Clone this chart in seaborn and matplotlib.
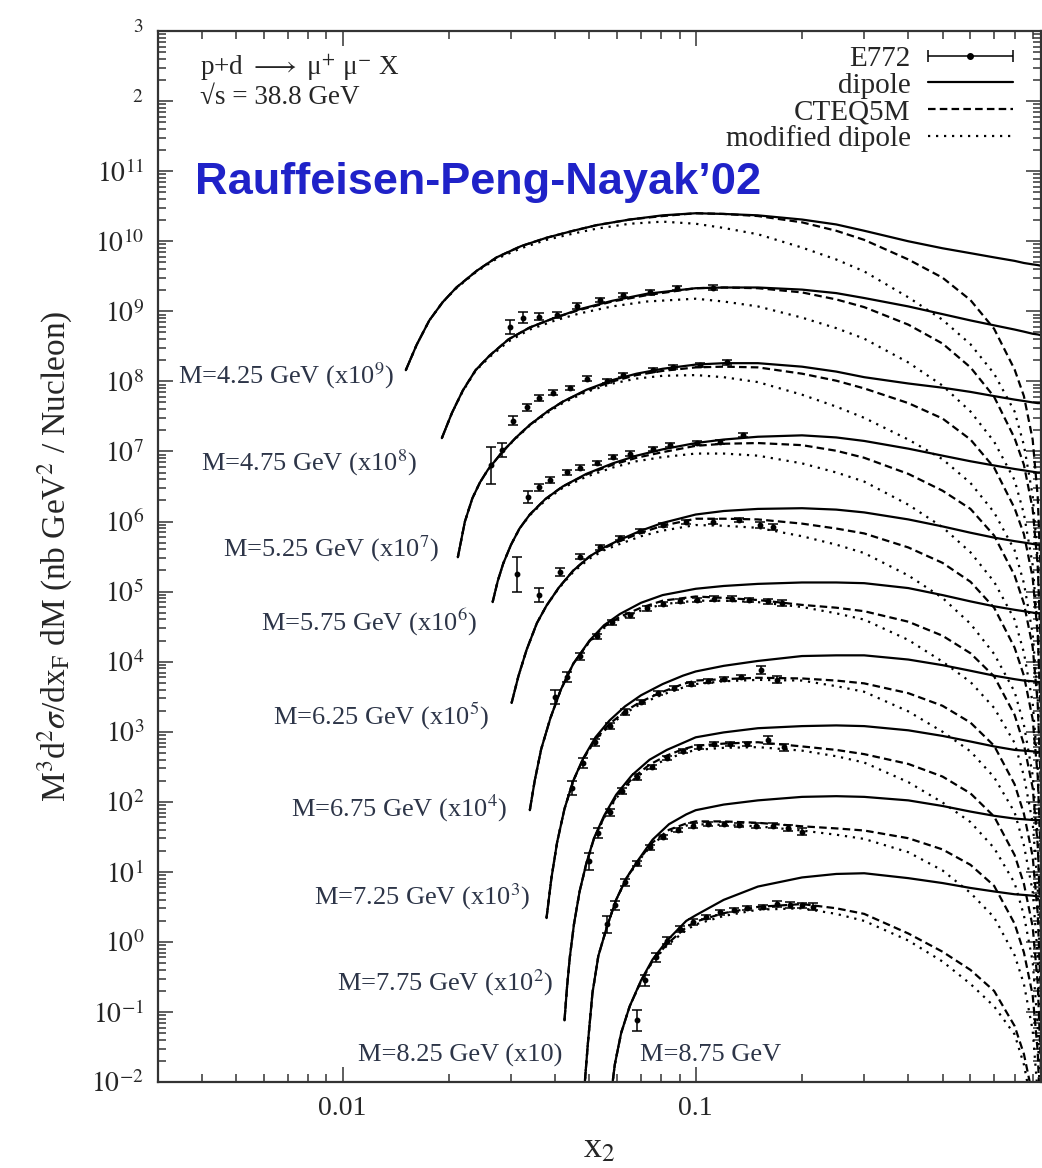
import numpy as np
import pandas as pd
import matplotlib
matplotlib.use("Agg")
import matplotlib.pyplot as plt
import seaborn as sns
from matplotlib.lines import Line2D
from matplotlib.container import ErrorbarContainer
from matplotlib.legend_handler import HandlerErrorbar
from matplotlib.ticker import FixedLocator, LogLocator, NullFormatter

# ---------------------------------------------------------------------------
# Values.  x2 values are plain numbers, the
# cross sections are stored as log10 of the plotted (already rescaled) value.
# Each curve = values at the bin's own low-x points followed by X_RIGHT.
# ---------------------------------------------------------------------------
X_RIGHT = [0.1, 0.12, 0.15, 0.2, 0.25, 0.3, 0.4, 0.5, 0.6, 0.7, 0.8, 0.85, 0.9, 0.93, 0.95]

MASS_LABELS = ["M=4.25 GeV (x10$^9$)", "M=4.75 GeV (x10$^8$)", "M=5.25 GeV (x10$^7$)",
               "M=5.75 GeV (x10$^6$)", "M=6.25 GeV (x10$^5$)", "M=6.75 GeV (x10$^4$)",
               "M=7.25 GeV (x10$^3$)", "M=7.75 GeV (x10$^2$)", "M=8.25 GeV (x10)",
               "M=8.75 GeV"]

# bin 1 : M = 4.25 GeV (x1e9)
B1_X = [0.0151, 0.0162, 0.0176, 0.0192, 0.0210, 0.0240, 0.0273, 0.032, 0.0378, 0.045, 0.0524, 0.065, 0.0806]
B1_DIPOLE = [8.16, 8.52, 8.87, 9.13, 9.34, 9.58, 9.77, 9.93, 10.05, 10.15, 10.23, 10.31, 10.37,
             10.40, 10.39, 10.37, 10.31, 10.24, 10.15, 10.00, 9.90, 9.83, 9.77, 9.72, 9.69, 9.67, 9.66, 9.65]
B1_CTEQ = [8.16, 8.52, 8.87, 9.13, 9.34, 9.58, 9.77, 9.93, 10.05, 10.15, 10.23, 10.31, 10.36,
           10.40, 10.39, 10.36, 10.27, 10.15, 10.02, 9.74, 9.48, 9.16, 8.75, 8.17, 7.79, 7.17, 6.36, 5.15]
B1_MODDIP = [8.16, 8.52, 8.87, 9.13, 9.33, 9.57, 9.75, 9.90, 10.02, 10.11, 10.18, 10.25, 10.28,
             10.25, 10.19, 10.10, 9.91, 9.74, 9.57, 9.20, 8.88, 8.53, 8.11, 7.57, 7.09, 6.37, 5.46, 4.15]

# bin 2 : M = 4.75 GeV (x1e8)
B2_X = [0.0191, 0.0204, 0.0219, 0.0238, 0.0261, 0.0295, 0.0339, 0.040, 0.0469, 0.058, 0.0726]
B2_DIPOLE = [7.19, 7.55, 7.87, 8.16, 8.37, 8.60, 8.77, 8.91, 9.03, 9.15, 9.25,
             9.33, 9.34, 9.34, 9.31, 9.26, 9.19, 9.07, 8.96, 8.87, 8.80, 8.74, 8.71, 8.68, 8.67, 8.66]
B2_CTEQ = [7.19, 7.55, 7.87, 8.16, 8.37, 8.60, 8.77, 8.91, 9.02, 9.14, 9.23,
           9.33, 9.34, 9.33, 9.27, 9.17, 9.06, 8.81, 8.54, 8.20, 7.78, 7.19, 6.81, 6.18, 5.37, 4.16]
B2_MODDIP = [7.19, 7.55, 7.86, 8.15, 8.35, 8.57, 8.74, 8.87, 8.97, 9.07, 9.14,
             9.18, 9.14, 9.07, 8.91, 8.76, 8.61, 8.27, 7.94, 7.57, 7.14, 6.59, 6.11, 5.38, 4.47, 3.16]

# bin 3 : M = 5.25 GeV (x1e7)
B3_X = [0.0212, 0.0222, 0.0233, 0.0245, 0.0258, 0.0284, 0.031, 0.0339, 0.038, 0.042, 0.049, 0.0582, 0.068, 0.0806]
B3_DIPOLE = [5.49, 6.00, 6.33, 6.56, 6.74, 7.00, 7.20, 7.38, 7.57, 7.71, 7.88, 8.02, 8.11, 8.18,
             8.24, 8.26, 8.26, 8.21, 8.14, 8.06, 7.97, 7.91, 7.85, 7.79, 7.74, 7.72, 7.70, 7.69, 7.69]
B3_CTEQ = [5.49, 6.00, 6.33, 6.56, 6.74, 7.00, 7.20, 7.38, 7.57, 7.71, 7.87, 8.00, 8.09, 8.15,
           8.20, 8.21, 8.20, 8.11, 8.01, 7.90, 7.69, 7.47, 7.17, 6.77, 6.19, 5.82, 5.20, 4.39, 3.19]
B3_MODDIP = [5.49, 6.00, 6.33, 6.56, 6.74, 7.00, 7.19, 7.37, 7.55, 7.69, 7.85, 7.97, 8.04, 8.08,
             8.09, 8.06, 7.99, 7.81, 7.64, 7.48, 7.17, 6.89, 6.55, 6.13, 5.59, 5.12, 4.40, 3.49, 2.19]

# bin 4 : M = 5.75 GeV (x1e6)
B4_X = [0.0266, 0.0275, 0.0285, 0.030, 0.0317, 0.0339, 0.0375, 0.042, 0.049, 0.0582, 0.068, 0.0806]
B4_DIPOLE = [4.85, 5.15, 5.40, 5.67, 5.90, 6.10, 6.32, 6.50, 6.68, 6.83, 6.94, 7.03,
             7.12, 7.17, 7.21, 7.23, 7.20, 7.15, 7.04, 6.94, 6.86, 6.80, 6.75, 6.73, 6.71, 6.70, 6.70]
B4_CTEQ = [4.85, 5.15, 5.40, 5.67, 5.90, 6.10, 6.32, 6.50, 6.67, 6.81, 6.91, 6.99,
           7.08, 7.11, 7.12, 7.09, 7.01, 6.91, 6.68, 6.44, 6.18, 5.80, 5.23, 4.83, 4.21, 3.40, 2.20]
B4_MODDIP = [4.85, 5.15, 5.40, 5.67, 5.90, 6.09, 6.30, 6.48, 6.64, 6.77, 6.86, 6.92,
             6.97, 6.97, 6.94, 6.83, 6.70, 6.57, 6.24, 5.92, 5.56, 5.14, 4.60, 4.13, 3.41, 2.50, 1.20]

# bin 5 : M = 6.25 GeV (x1e5)
B5_X = [0.0301, 0.0315, 0.0332, 0.0355, 0.0378, 0.041, 0.045, 0.050, 0.055, 0.061, 0.070, 0.0806]
B5_DIPOLE = [3.41, 3.80, 4.17, 4.55, 4.80, 5.06, 5.30, 5.50, 5.63, 5.74, 5.87, 5.98,
             6.10, 6.15, 6.18, 6.19, 6.17, 6.13, 6.03, 5.93, 5.84, 5.77, 5.72, 5.70, 5.68, 5.67, 5.66]
B5_CTEQ = [3.41, 3.80, 4.17, 4.55, 4.80, 5.06, 5.30, 5.50, 5.62, 5.72, 5.84, 5.94,
           6.04, 6.04, 6.03, 5.97, 5.90, 5.83, 5.63, 5.41, 5.14, 4.77, 4.20, 3.80, 3.18, 2.37, 1.16]
B5_MODDIP = [3.41, 3.80, 4.17, 4.55, 4.80, 5.05, 5.28, 5.47, 5.59, 5.68, 5.79, 5.87,
             5.95, 5.94, 5.91, 5.79, 5.67, 5.55, 5.23, 4.91, 4.54, 4.11, 3.57, 3.10, 2.38, 1.47, 0.16]

# bin 6 : M = 6.75 GeV (x1e4)
B6_X = [0.0339, 0.035, 0.0365, 0.0388, 0.0415, 0.045, 0.050, 0.055, 0.061, 0.070, 0.0806]
B6_DIPOLE = [1.88, 2.30, 2.75, 3.20, 3.60, 3.97, 4.30, 4.52, 4.68, 4.84, 4.95,
             5.04, 5.08, 5.11, 5.13, 5.13, 5.12, 5.05, 4.95, 4.86, 4.79, 4.74, 4.72, 4.70, 4.69, 4.69]
B6_CTEQ = [1.88, 2.30, 2.75, 3.20, 3.60, 3.97, 4.29, 4.50, 4.64, 4.77, 4.87,
           4.93, 4.91, 4.88, 4.81, 4.77, 4.72, 4.57, 4.37, 4.12, 3.79, 3.24, 2.82, 2.20, 1.39, 0.19]
B6_MODDIP = [1.88, 2.30, 2.75, 3.20, 3.60, 3.97, 4.28, 4.48, 4.61, 4.73, 4.82,
             4.87, 4.87, 4.85, 4.78, 4.69, 4.60, 4.31, 4.00, 3.71, 3.34, 2.84, 2.37, 1.70, 0.79, -0.81]

# bin 7 : M = 7.25 GeV (x1e3)
B7_X = [0.0378, 0.039, 0.0405, 0.0425, 0.045, 0.048, 0.052, 0.057, 0.063, 0.070, 0.0806, 0.092]
B7_DIPOLE = [0.34, 0.90, 1.42, 1.90, 2.30, 2.62, 2.92, 3.16, 3.36, 3.52, 3.68, 3.80,
             3.86, 3.94, 4.01, 4.08, 4.09, 4.09, 4.03, 3.95, 3.87, 3.80, 3.75, 3.73, 3.72, 3.71, 3.71]
B7_CTEQ = [0.34, 0.90, 1.42, 1.90, 2.30, 2.61, 2.89, 3.11, 3.29, 3.43, 3.57, 3.68,
           3.73, 3.75, 3.77, 3.76, 3.73, 3.69, 3.55, 3.37, 3.13, 2.80, 2.25, 1.83, 1.22, 0.41, -0.79]
B7_MODDIP = [0.34, 0.90, 1.42, 1.90, 2.30, 2.61, 2.88, 3.09, 3.26, 3.40, 3.53, 3.63,
             3.68, 3.72, 3.74, 3.73, 3.65, 3.57, 3.29, 3.00, 2.72, 2.35, 1.85, 1.38, 0.72, -0.19, -1.79]

# bin 8 : M = 7.75 GeV (x1e2)
B8_X = [0.0425, 0.0432, 0.044, 0.0452, 0.0469, 0.049, 0.0515, 0.055, 0.0595, 0.066, 0.074, 0.0828, 0.092]
B8_DIPOLE = [-1.12, -0.65, -0.22, 0.25, 0.72, 1.12, 1.48, 1.80, 2.10, 2.38, 2.60, 2.74, 2.84,
             2.92, 2.99, 3.05, 3.08, 3.09, 3.08, 3.02, 2.94, 2.86, 2.79, 2.74, 2.73, 2.72, 2.71, 2.71]
B8_CTEQ = [-1.12, -0.65, -0.22, 0.25, 0.72, 1.12, 1.47, 1.78, 2.07, 2.33, 2.53, 2.66, 2.75,
           2.80, 2.83, 2.85, 2.79, 2.74, 2.68, 2.54, 2.36, 2.12, 1.79, 1.24, 0.83, 0.22, -0.59, -1.79]
B8_MODDIP = [-1.12, -0.65, -0.22, 0.25, 0.72, 1.12, 1.47, 1.77, 2.05, 2.30, 2.49, 2.61, 2.69,
             2.74, 2.77, 2.78, 2.73, 2.65, 2.56, 2.28, 1.99, 1.71, 1.34, 0.84, 0.38, -0.28, -1.19, -2.79]

# bin 9 : M = 8.25 GeV (x10)
B9_X = [0.0480, 0.0495, 0.051, 0.053, 0.056, 0.0595, 0.0638, 0.069, 0.0755, 0.084, 0.094]
B9_DIPOLE = [-2.30, -1.45, -0.73, -0.20, 0.21, 0.60, 0.92, 1.18, 1.46, 1.68, 1.82,
             1.88, 1.96, 2.02, 2.07, 2.08, 2.07, 2.02, 1.94, 1.86, 1.80, 1.76, 1.75, 1.74, 1.74, 1.74]
B9_CTEQ = [-2.30, -1.45, -0.73, -0.20, 0.21, 0.60, 0.92, 1.17, 1.42, 1.60, 1.69,
           1.72, 1.72, 1.70, 1.65, 1.62, 1.59, 1.48, 1.32, 1.10, 0.80, 0.26, -0.15, -0.76, -1.56, -2.76]
B9_MODDIP = [-2.30, -1.45, -0.73, -0.20, 0.21, 0.60, 0.91, 1.16, 1.40, 1.57, 1.66,
             1.68, 1.67, 1.65, 1.59, 1.53, 1.47, 1.28, 1.02, 0.70, 0.35, -0.19, -0.60, -1.26, -2.16, -3.76]

# bin 10 : M = 8.75 GeV (x1)
B10_X = [0.0572, 0.059, 0.0615, 0.065, 0.070, 0.0755, 0.083, 0.094]
B10_DIPOLE = [-2.30, -1.75, -1.30, -0.92, -0.55, -0.25, 0.02, 0.30,
              0.38, 0.60, 0.79, 0.92, 0.97, 0.98, 0.91, 0.84, 0.77, 0.72, 0.68, 0.67, 0.66, 0.65, 0.65]
B10_CTEQ = [-2.30, -1.75, -1.30, -0.92, -0.56, -0.27, -0.03, 0.21,
            0.29, 0.41, 0.50, 0.54, 0.48, 0.40, 0.12, -0.14, -0.40, -0.70, -1.20, -1.60, -2.20, -3.00, -4.20]
B10_MODDIP = [-2.30, -1.75, -1.30, -0.92, -0.56, -0.28, -0.05, 0.17,
              0.25, 0.37, 0.46, 0.48, 0.40, 0.30, 0.02, -0.28, -0.60, -0.92, -1.32, -1.75, -2.40, -3.30, -5.00]

# E772 data points (x2, log10 of value, error in decades)
D2_X = [0.0297, 0.0324, 0.0361, 0.0404, 0.046, 0.0535, 0.0621, 0.0741, 0.0884, 0.1117]
D2_Y = [8.77, 8.91, 8.92, 8.95, 9.08, 9.16, 9.23, 9.27, 9.33, 9.34]
D2_E = [0.10, 0.08, 0.05, 0.04, 0.04, 0.03, 0.03, 0.03, 0.03, 0.03]

D3_X = [0.0264, 0.0282, 0.0303, 0.0332, 0.0361, 0.0394, 0.044, 0.0491, 0.056, 0.0621, 0.0755, 0.0861, 0.1026, 0.1225]
D3_Y = [6.80, 7.02, 7.44, 7.63, 7.76, 7.84, 7.91, 8.04, 8.01, 8.09, 8.16, 8.20, 8.23, 8.27]
D3_E = [0.27, 0.10, 0.06, 0.05, 0.04, 0.04, 0.03, 0.03, 0.03, 0.03, 0.03, 0.03, 0.03, 0.03]

D4_X = [0.0311, 0.0334, 0.0361, 0.0386, 0.0431, 0.0469, 0.0524, 0.0582, 0.065, 0.0755, 0.0844, 0.1006, 0.117, 0.136]
D4_Y = [5.25, 6.35, 6.49, 6.59, 6.70, 6.77, 6.84, 6.92, 6.97, 7.04, 7.09, 7.12, 7.13, 7.23]
D4_E = [0.25, 0.08, 0.05, 0.04, 0.04, 0.03, 0.03, 0.03, 0.03, 0.03, 0.03, 0.03, 0.03, 0.03]

D5_X = [0.0361, 0.0412, 0.047, 0.0535, 0.061, 0.0694, 0.0806, 0.094, 0.1117, 0.133, 0.152, 0.165]
D5_Y = [4.95, 5.28, 5.50, 5.63, 5.77, 5.87, 5.95, 5.99, 6.00, 6.02, 5.95, 5.92]
D5_E = [0.10, 0.06, 0.04, 0.04, 0.03, 0.03, 0.03, 0.03, 0.03, 0.03, 0.04, 0.04]

D6_X = [0.040, 0.0431, 0.0469, 0.0524, 0.058, 0.065, 0.0726, 0.081, 0.090, 0.101, 0.113, 0.127, 0.142, 0.16, 0.175]
D6_Y = [3.50, 3.78, 4.08, 4.36, 4.56, 4.66, 4.76, 4.82, 4.86, 4.88, 4.90, 4.90, 4.88, 4.86, 4.84]
D6_E = [0.10, 0.07, 0.05, 0.04, 0.04, 0.03, 0.03, 0.03, 0.03, 0.03, 0.03, 0.03, 0.03, 0.04, 0.04]

D7_X = [0.0445, 0.048, 0.052, 0.057, 0.063, 0.070, 0.078, 0.087, 0.097, 0.108, 0.12, 0.134, 0.153, 0.17]
D7_Y = [2.20, 2.55, 2.85, 3.08, 3.28, 3.42, 3.55, 3.62, 3.68, 3.72, 3.75, 3.78, 3.88, 3.74]
D7_E = [0.10, 0.07, 0.05, 0.04, 0.04, 0.03, 0.03, 0.03, 0.03, 0.03, 0.03, 0.03, 0.06, 0.05]

D8_X = [0.050, 0.053, 0.057, 0.062, 0.068, 0.075, 0.083, 0.092, 0.102, 0.113, 0.125, 0.14, 0.16, 0.178]
D8_Y = [1.15, 1.55, 1.85, 2.15, 2.35, 2.50, 2.63, 2.72, 2.78, 2.82, 2.82, 2.83, 2.88, 2.78]
D8_E = [0.12, 0.07, 0.05, 0.04, 0.04, 0.03, 0.03, 0.03, 0.03, 0.03, 0.03, 0.03, 0.06, 0.05]

D9_X = [0.056, 0.059, 0.063, 0.068, 0.074, 0.081, 0.089, 0.098, 0.108, 0.12, 0.133, 0.148, 0.165, 0.183, 0.20]
D9_Y = [0.25, 0.52, 0.85, 1.12, 1.35, 1.50, 1.60, 1.66, 1.68, 1.68, 1.67, 1.66, 1.66, 1.63, 1.57]
D9_E = [0.12, 0.07, 0.05, 0.04, 0.04, 0.03, 0.03, 0.03, 0.03, 0.03, 0.03, 0.03, 0.04, 0.04, 0.05]

D10_X = [0.068, 0.072, 0.077, 0.083, 0.09, 0.098, 0.107, 0.117, 0.128, 0.14, 0.155, 0.17, 0.185, 0.20, 0.215]
D10_Y = [-1.12, -0.55, -0.22, 0.02, 0.18, 0.28, 0.36, 0.42, 0.46, 0.48, 0.50, 0.54, 0.53, 0.52, 0.50]
D10_E = [0.15, 0.08, 0.06, 0.05, 0.04, 0.04, 0.03, 0.03, 0.03, 0.03, 0.03, 0.04, 0.04, 0.04, 0.05]

MODELS = ["dipole", "CTEQ5M", "modified dipole"]

# ---------------------------------------------------------------------------
sns.set_style("ticks")
plt.rcParams["font.family"] = ["Liberation Serif", "DejaVu Serif"]
plt.rcParams["mathtext.fontset"] = "stix"
TXT = "#262626"

CURVES = [(B1_X, B1_DIPOLE, B1_CTEQ, B1_MODDIP), (B2_X, B2_DIPOLE, B2_CTEQ, B2_MODDIP),
          (B3_X, B3_DIPOLE, B3_CTEQ, B3_MODDIP), (B4_X, B4_DIPOLE, B4_CTEQ, B4_MODDIP),
          (B5_X, B5_DIPOLE, B5_CTEQ, B5_MODDIP), (B6_X, B6_DIPOLE, B6_CTEQ, B6_MODDIP),
          (B7_X, B7_DIPOLE, B7_CTEQ, B7_MODDIP), (B8_X, B8_DIPOLE, B8_CTEQ, B8_MODDIP),
          (B9_X, B9_DIPOLE, B9_CTEQ, B9_MODDIP), (B10_X, B10_DIPOLE, B10_CTEQ, B10_MODDIP)]
DATA = [(D2_X, D2_Y, D2_E), (D3_X, D3_Y, D3_E), (D4_X, D4_Y, D4_E), (D5_X, D5_Y, D5_E),
        (D6_X, D6_Y, D6_E), (D7_X, D7_Y, D7_E), (D8_X, D8_Y, D8_E), (D9_X, D9_Y, D9_E),
        (D10_X, D10_Y, D10_E)]

rows = []
for ib, (xl, dip, cteq, mod) in enumerate(CURVES):
    xs = list(xl) + X_RIGHT
    for model, vals in zip(MODELS, (dip, cteq, mod)):
        assert len(vals) == len(xs), (ib, model, len(vals), len(xs))
        for xv, lv in zip(xs, vals):
            rows.append({"bin": ib, "model": model, "x": xv, "y": 10.0 ** lv})
df = pd.DataFrame(rows)

fig = plt.figure(figsize=(10.42, 11.68), dpi=100)
ax = fig.add_axes([0.1516, 0.0736, 0.8474, 0.8998])
ax.set_xscale("log")
ax.set_yscale("log")

DASHES = {"dipole": "", "CTEQ5M": (3.4, 1.9), "modified dipole": (1.0, 2.6)}
sns.lineplot(data=df, x="x", y="y", units="bin", estimator=None, style="model",
             style_order=MODELS, dashes=DASHES, color="black", linewidth=1.6,
             legend=False, ax=ax, sort=False)

for dx, dy, de in DATA:
    x = np.asarray(dx)
    y = 10.0 ** np.asarray(dy)
    e = np.asarray(de)
    yerr = np.vstack([y - y * 10.0 ** (-e), y * 10.0 ** e - y])
    ax.errorbar(x, y, yerr=yerr, fmt="o", ms=3.2, color="black", ecolor="black",
                elinewidth=1.1, capsize=3.5, capthick=1.1, zorder=4)

ax.set_xlim(0.003, 0.95)
ax.set_ylim(1e-2, 1e13)

# ticks
ax.xaxis.set_major_locator(FixedLocator([0.01, 0.1]))
ax.set_xticklabels(["0.01", "0.1"])
ax.xaxis.set_minor_locator(LogLocator(base=10, subs=np.arange(2, 10), numticks=50))
ax.xaxis.set_minor_formatter(NullFormatter())
ax.yaxis.set_major_locator(FixedLocator([10.0 ** k for k in range(-2, 14)]))
ylabels = [f"$10^{{{k}}}$" for k in range(-2, 12)] + ["${}^{2}$", "${}^{3}$"]
ax.set_yticklabels(ylabels)
ax.yaxis.set_minor_locator(LogLocator(base=10, subs=np.arange(2, 10), numticks=50))
ax.yaxis.set_minor_formatter(NullFormatter())
ax.tick_params(which="both", direction="in", top=True, right=True, colors="#333333",
               labelcolor=TXT, width=1.1)
ax.tick_params(which="major", length=11, labelsize=20)
ax.tick_params(axis="x", which="major", pad=10)
ax.tick_params(axis="y", which="major", pad=10)
ax.tick_params(which="minor", length=6)
for s in ax.spines.values():
    s.set_linewidth(1.6)
    s.set_color("#333333")

ax.set_xlabel("x$_2$", fontsize=26, color=TXT)
ax.xaxis.set_label_coords(0.50, -0.048)
ax.set_ylabel(r"M$^3$d$^2\sigma$/dx$_{\rm F}$ dM (nb GeV$^2$ / Nucleon)", fontsize=24, color=TXT)
ax.yaxis.set_label_coords(-0.094, 0.5)

# mass labels (right end of each label sits next to the start of its curve)
LABEL_POS = [(0.01404, 1.2e8), (0.01630, 7e6), (0.01883, 4.1e5), (0.0241, 3.6e4),
             (0.0261, 1.66e3), (0.0293, 81), (0.0339, 4.4), (0.0394, 0.26),
             (0.0420, 0.0243), (0.0694, 0.0243)]
for i, (lab, (lx, ly)) in enumerate(zip(MASS_LABELS, LABEL_POS)):
    ax.text(lx, ly, lab, ha="left" if i == 9 else "right", va="center",
            fontsize=19, color="#2d3548")

ax.text(0.0476, 0.965, "p+d $\\longrightarrow$ \u03bc$^{+}$ \u03bc$^{-}$ X", transform=ax.transAxes,
        fontsize=19.5, color=TXT, va="center", ha="left")
ax.text(0.0476, 0.937, "\u221as = 38.8 GeV", transform=ax.transAxes,
        fontsize=19.5, color=TXT, va="center", ha="left")
ax.text(0.042, 0.856, "Rauffeisen-Peng-Nayak\u201902", transform=ax.transAxes,
        fontsize=32.5, fontweight="bold", color="#1f22c8", family="Liberation Sans",
        va="center", ha="left")

# legend
eb = ax.errorbar([1e-9], [1e-9], xerr=[[0.0], [0.0]], fmt="o", ms=4, color="black",
                 elinewidth=1.1, capsize=4.5, capthick=1.1)
handles = [eb,
           Line2D([], [], color="black", lw=1.6),
           Line2D([], [], color="black", lw=1.6, dashes=DASHES["CTEQ5M"]),
           Line2D([], [], color="black", lw=1.6, dashes=DASHES["modified dipole"])]
leg = ax.legend(handles, ["E772"] + MODELS, loc="upper right",
                bbox_to_anchor=(0.968, 0.986), frameon=False, markerfirst=False,
                fontsize=21, handlelength=2.9, handletextpad=0.6, labelspacing=0.0,
                borderaxespad=0.0, borderpad=0.0, numpoints=1,
                handler_map={ErrorbarContainer: HandlerErrorbar(xerr_size=1.45, numpoints=1)})
for t in leg.get_texts():
    t.set_color(TXT)

fig.savefig("out.png", dpi=100)
